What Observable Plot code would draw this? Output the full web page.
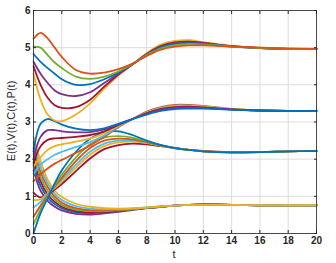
<!DOCTYPE html>
<html><head><meta charset="utf-8">
<script src="https://cdn.jsdelivr.net/npm/d3@7"></script>
<script src="https://cdn.jsdelivr.net/npm/@observablehq/plot@0.6"></script>
<style>
html,body{margin:0;padding:0;background:#fff;}
#c{position:relative;width:336px;height:263px;}
</style>
</head><body><div id="c"></div>
<script>
const times = [0,0.5,1,1.5,2,3,4,5,6,7,8,9,10,11,12,14,16,18,20];
const colors = {blue:"#0072BD",orange:"#D95319",yellow:"#EDB120",purple:"#7E2F8E",green:"#77AC30",lightblue:"#4DBEEE",darkred:"#A2142F"};
const xTicks = [0,2,4,6,8,10,12,14,16,18,20];
const yTicks = [0,1,2,3,4,5,6];

// E(t)
const E_orange  = [5.24,5.40,5.25,5.00,4.75,4.40,4.30,4.33,4.42,4.57,4.78,4.95,5.03,5.06,5.06,5.03,5.00,4.98,4.97];
const E_green   = [5.03,5.00,4.80,4.60,4.45,4.22,4.16,4.22,4.36,4.56,4.80,4.98,5.07,5.10,5.09,5.03,4.99,4.97,4.97];
const E_blue    = [4.83,4.62,4.45,4.30,4.15,4.00,4.02,4.15,4.33,4.56,4.80,5.00,5.10,5.12,5.10,5.03,4.99,4.97,4.97];
const E_purple  = [4.62,4.30,4.05,3.85,3.75,3.70,3.80,4.05,4.30,4.55,4.82,5.02,5.12,5.14,5.12,5.04,4.99,4.97,4.97];
const E_darkred = [4.50,4.00,3.65,3.45,3.38,3.40,3.60,3.95,4.28,4.55,4.83,5.04,5.14,5.16,5.13,5.04,4.99,4.97,4.97];
const E_yellow  = [4.30,3.60,3.20,3.04,3.02,3.20,3.50,3.90,4.25,4.55,4.85,5.08,5.18,5.20,5.15,5.05,5.00,4.97,4.97];
// V(t)
const V_blue      = [2.20,2.95,3.08,3.02,2.93,2.82,2.78,2.83,2.95,3.08,3.20,3.30,3.35,3.36,3.36,3.33,3.31,3.30,3.30];
const V_purple    = [2.00,2.60,2.78,2.78,2.75,2.72,2.73,2.80,2.94,3.08,3.22,3.33,3.38,3.39,3.38,3.34,3.31,3.30,3.30];
const V_darkred   = [1.90,2.35,2.52,2.56,2.57,2.60,2.65,2.75,2.92,3.08,3.24,3.35,3.40,3.41,3.39,3.34,3.31,3.30,3.30];
const V_yellow    = [1.80,2.05,2.25,2.35,2.40,2.47,2.55,2.70,2.90,3.08,3.25,3.37,3.42,3.43,3.41,3.35,3.31,3.30,3.30];
const V_lightblue = [1.60,1.85,2.00,2.12,2.20,2.33,2.46,2.64,2.88,3.08,3.26,3.38,3.44,3.44,3.42,3.35,3.31,3.30,3.30];
const V_orange    = [1.40,1.60,1.75,1.88,1.98,2.17,2.37,2.60,2.86,3.08,3.28,3.40,3.46,3.46,3.43,3.35,3.31,3.30,3.30];
// C(t)
const C_blue      = [0.00,0.55,0.95,1.35,1.70,2.20,2.55,2.72,2.75,2.65,2.50,2.38,2.30,2.25,2.21,2.18,2.19,2.21,2.22];
const C_green     = [0.25,0.65,1.00,1.30,1.58,2.05,2.40,2.58,2.62,2.58,2.48,2.38,2.30,2.25,2.21,2.18,2.19,2.21,2.22];
const C_orange    = [0.45,0.75,1.02,1.27,1.50,1.95,2.30,2.50,2.55,2.53,2.46,2.37,2.30,2.25,2.21,2.19,2.19,2.21,2.22];
const C_lightblue = [0.70,0.85,1.05,1.25,1.45,1.85,2.20,2.42,2.50,2.50,2.45,2.37,2.30,2.25,2.21,2.19,2.19,2.21,2.22];
const C_yellow    = [0.90,0.92,1.07,1.22,1.40,1.77,2.12,2.35,2.45,2.47,2.43,2.36,2.30,2.25,2.21,2.19,2.19,2.21,2.22];
const C_darkred   = [1.10,0.97,1.05,1.18,1.33,1.68,2.02,2.27,2.38,2.42,2.40,2.35,2.30,2.25,2.22,2.19,2.19,2.21,2.22];
// P(t)
const P_yellow    = [2.60,1.95,1.45,1.15,0.98,0.80,0.72,0.68,0.67,0.68,0.70,0.73,0.75,0.77,0.77,0.77,0.76,0.76,0.76];
const P_lightblue = [2.45,1.80,1.35,1.07,0.90,0.74,0.67,0.65,0.65,0.67,0.70,0.73,0.75,0.77,0.77,0.77,0.76,0.76,0.76];
const P_orange    = [2.30,1.65,1.25,0.99,0.83,0.68,0.63,0.62,0.63,0.66,0.69,0.72,0.75,0.77,0.78,0.77,0.76,0.76,0.76];
const P_green     = [2.15,1.52,1.15,0.92,0.77,0.64,0.60,0.60,0.62,0.65,0.69,0.72,0.75,0.77,0.78,0.77,0.76,0.76,0.76];
const P_darkred   = [2.00,1.40,1.05,0.85,0.72,0.60,0.57,0.58,0.61,0.65,0.69,0.72,0.75,0.77,0.78,0.77,0.76,0.76,0.76];
const P_blue      = [1.85,1.28,0.97,0.79,0.68,0.57,0.55,0.57,0.60,0.64,0.68,0.72,0.75,0.77,0.78,0.77,0.76,0.76,0.76];
const P_purple    = [1.70,1.15,0.88,0.72,0.62,0.53,0.51,0.54,0.58,0.63,0.68,0.72,0.75,0.77,0.78,0.77,0.76,0.76,0.76];

const series = [
  ["P","purple",P_purple],["P","blue",P_blue],["P","darkred",P_darkred],["P","green",P_green],["P","orange",P_orange],["P","lightblue",P_lightblue],["P","yellow",P_yellow],
  ["C","darkred",C_darkred],["C","yellow",C_yellow],["C","lightblue",C_lightblue],["C","orange",C_orange],["C","green",C_green],["C","blue",C_blue],
  ["V","orange",V_orange],["V","lightblue",V_lightblue],["V","yellow",V_yellow],["V","darkred",V_darkred],["V","purple",V_purple],["V","blue",V_blue],
  ["E","yellow",E_yellow],["E","darkred",E_darkred],["E","purple",E_purple],["E","blue",E_blue],["E","green",E_green],["E","orange",E_orange]
];
const rows = [];
series.forEach(([g,c,vals])=>vals.forEach((v,j)=>rows.push({id:g+c,col:colors[c],t:times[j],v})));

const chart = Plot.plot({
  width:336, height:263,
  marginLeft:33, marginRight:20, marginTop:10, marginBottom:30,
  style:{fontFamily:"'Liberation Sans', Arial, sans-serif", fontSize:"10px", color:"#262626", background:"#fff"},
  x:{domain:[0,20], ticks:xTicks, label:null},
  y:{domain:[0,6], ticks:yTicks, label:null},
  marks:[
    Plot.gridX(xTicks,{stroke:"#dcdcdc", strokeOpacity:1}),
    Plot.gridY(yTicks,{stroke:"#dcdcdc", strokeOpacity:1}),
    Plot.line(rows,{x:"t", y:"v", z:"id", stroke:"col", strokeWidth:1.8, curve:"catmull-rom"}),
    Plot.frame({stroke:"#262626", strokeWidth:0.8}),
    Plot.axisX(xTicks,{anchor:"bottom", tickSize:-3, tickPadding:6, stroke:"#262626", fontWeight:"bold", fill:"#262626", label:null}),
    Plot.axisX(xTicks,{anchor:"top", tickSize:-3, text:null, stroke:"#262626", label:null}),
    Plot.axisY(yTicks,{anchor:"left", tickSize:-3, tickPadding:6, stroke:"#262626", fontWeight:"bold", fill:"#262626", label:null}),
    Plot.axisY(yTicks,{anchor:"right", tickSize:-3, text:null, stroke:"#262626", label:null})
  ]
});
const c = document.getElementById("c");
c.appendChild(chart);
const yl = document.createElement("div");
yl.textContent = "E(t),V(t),C(t),P(t)";
yl.style.cssText = "position:absolute;left:11px;top:121px;transform:translate(-50%,-50%) rotate(-90deg);font:11px 'Liberation Sans',Arial,sans-serif;color:#262626;white-space:nowrap;";
c.appendChild(yl);
const xl = document.createElement("div");
xl.textContent = "t";
xl.style.cssText = "position:absolute;left:174px;top:248px;transform:translateX(-50%);font:11px 'Liberation Sans',Arial,sans-serif;color:#262626;";
c.appendChild(xl);
</script>
</body></html>
